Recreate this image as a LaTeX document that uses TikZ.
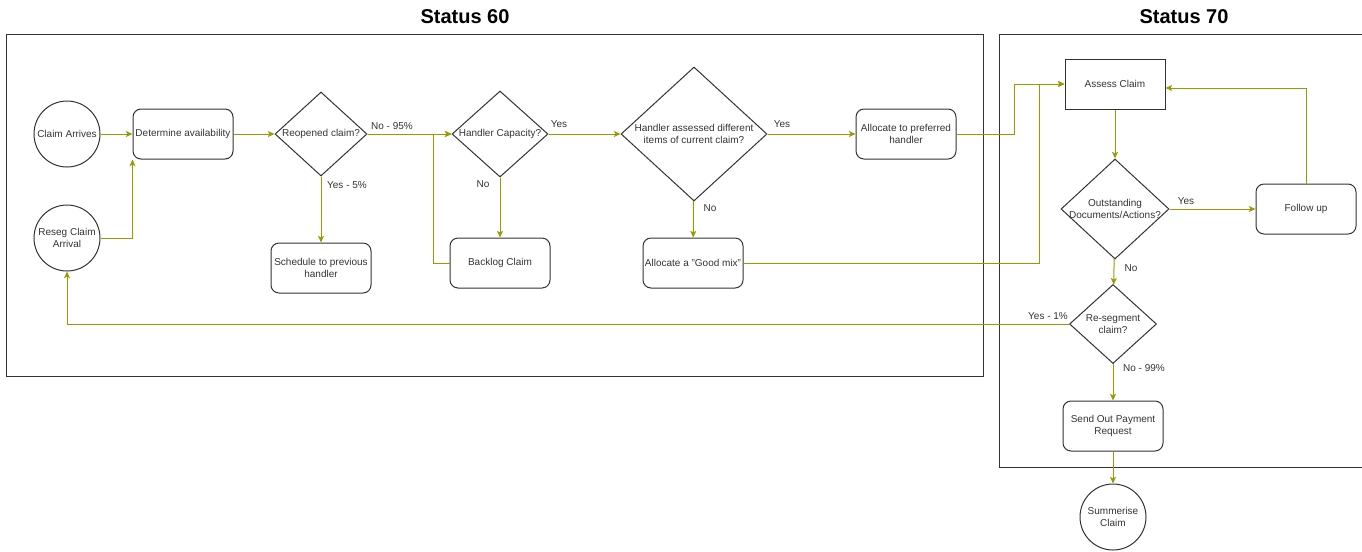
\documentclass[tikz,border=0pt]{standalone}
\usepackage{fontspec}
\setmainfont{Liberation Sans}
\usetikzlibrary{shapes.geometric,arrows.meta}
\definecolor{flow}{RGB}{153,153,0}
\definecolor{edge}{RGB}{51,51,51}
\begin{document}
\begin{tikzpicture}[x=0.75pt,y=-0.75pt,
  every node/.style={font=\fontsize{7.5}{8.8}\selectfont, text=edge, align=center},
  box/.style={draw=edge, line width=0.75pt, rounded corners=6pt, minimum width=75pt, minimum height=37.5pt, inner sep=1pt},
  sharpbox/.style={draw=edge, line width=0.75pt, minimum width=75pt, minimum height=37.5pt, inner sep=1pt},
  term/.style={draw=edge, line width=0.75pt, circle, minimum size=49.5pt, inner sep=0pt},
  decision/.style={draw=edge, line width=0.75pt, diamond, inner sep=0pt},
  flowline/.style={draw=flow, line width=0.75pt, -{Stealth[length=5pt,width=4.5pt,inset=1.2pt]}},
  elabel/.style={fill=none, inner sep=0pt},
  title/.style={font=\fontsize{15}{18}\selectfont\bfseries, text=black},
  frame/.style={draw=edge, line width=0.75pt}]
\useasboundingbox (0,0) rectangle (1362,551);

% swimlane frames and headings
\draw[frame] (6,34) rectangle (983,376);
\draw[frame] (1362,34) -- (999,34) -- (999,467) -- (1362,467);
\node[title] (t60) at (465,17) {Status 60};
\node[title] (t70) at (1184,17) {Status 70};

% Status 60 nodes
\node[term, label={[name=cal]center:Claim Arrives}] (ca) at (67,134) {};
\node[term, label={[name=rsl]center:Reseg Claim\\Arrival}] (rsa) at (67,238) {};
\node[box] (det) at (183,134) {Determine availability};
\node[decision, minimum width=69pt, minimum height=63pt, label={[name=rol]center:Reopened claim?}] (ro) at (321,134) {};
\node[box] (sch) at (321,268) {Schedule to previous\\handler};
\node[decision, minimum width=72pt, minimum height=64.5pt, label={[name=hcl]center:Handler Capacity?}] (hc) at (500,134) {};
\node[box] (bl) at (500,263) {Backlog Claim};
\node[decision, minimum width=109.5pt, minimum height=100.5pt, label={[name=hal]center:Handler assessed different\\items of current claim?}] (ha) at (694,134) {};
\node[box] (gm) at (693,263) {Allocate a "Good mix"};
\node[box] (ap) at (906,134) {Allocate to preferred\\handler};

% Status 70 nodes
\node[sharpbox] (ac) at (1115,84) {Assess Claim};
\node[decision, minimum width=81pt, minimum height=75pt, label={[name=odl]center:Outstanding\\Documents/Actions?}] (od) at (1115,209) {};
\node[box] (fu) at (1306,209) {Follow up};
\node[decision, minimum width=65.25pt, minimum height=59.25pt, label={[name=rsgl]center:Re-segment\\claim?}] (rs) at (1113,324) {};
\node[box] (sp) at (1113,426) {Send Out Payment\\Request};
\node[term, label={[name=scl]center:Summerise\\Claim}] (sc) at (1113,517) {};

% connectors
\draw[flowline] (ca) -- (det);
\draw[flowline] (rsa.east) -| (det.south west);
\draw[flowline] (det) -- (ro);
\draw[flowline] (ro) -- (hc);
\draw[flowline] (ro) -- (sch);
\draw[flowline] (bl.west) -- ++(-16,0) |- (hc.west);
\draw[flowline] (hc) -- (ha);
\draw[flowline] (hc) -- (bl);
\draw[flowline] (ha) -- (gm);
\draw[flowline] (ha) -- (ap);
\draw[flowline] (ap.east) -- ++(58,0) |- (ac.west);
\draw[flowline] (gm.east) -- ++(296,0) |- (ac.west);
\draw[flowline] (ac) -- (od);
\draw[flowline] (od) -- (fu);
\draw[flowline] (fu.north) |- ([yshift=-3pt]ac.east);
\draw[flowline] (od) -- (rs);
\draw[flowline] (rs.west) -| (rsa.south);
\draw[flowline] (rs) -- (sp);
\draw[flowline] (sp) -- (sc);

% connector labels
\node[elabel] (l1) at (392,126) {No - 95\%};
\node[elabel] (l2) at (347,185) {Yes - 5\%};
\node[elabel] (l3) at (559,124) {Yes};
\node[elabel] (l4) at (483,184) {No};
\node[elabel] (l5) at (710,208) {No};
\node[elabel] (l6) at (782,124) {Yes};
\node[elabel] (l7) at (1186,201) {Yes};
\node[elabel] (l8) at (1131,268) {No};
\node[elabel] (l9) at (1048,316) {Yes - 1\%};
\node[elabel] (l10) at (1144,368) {No - 99\%};
\end{tikzpicture}
\end{document}
